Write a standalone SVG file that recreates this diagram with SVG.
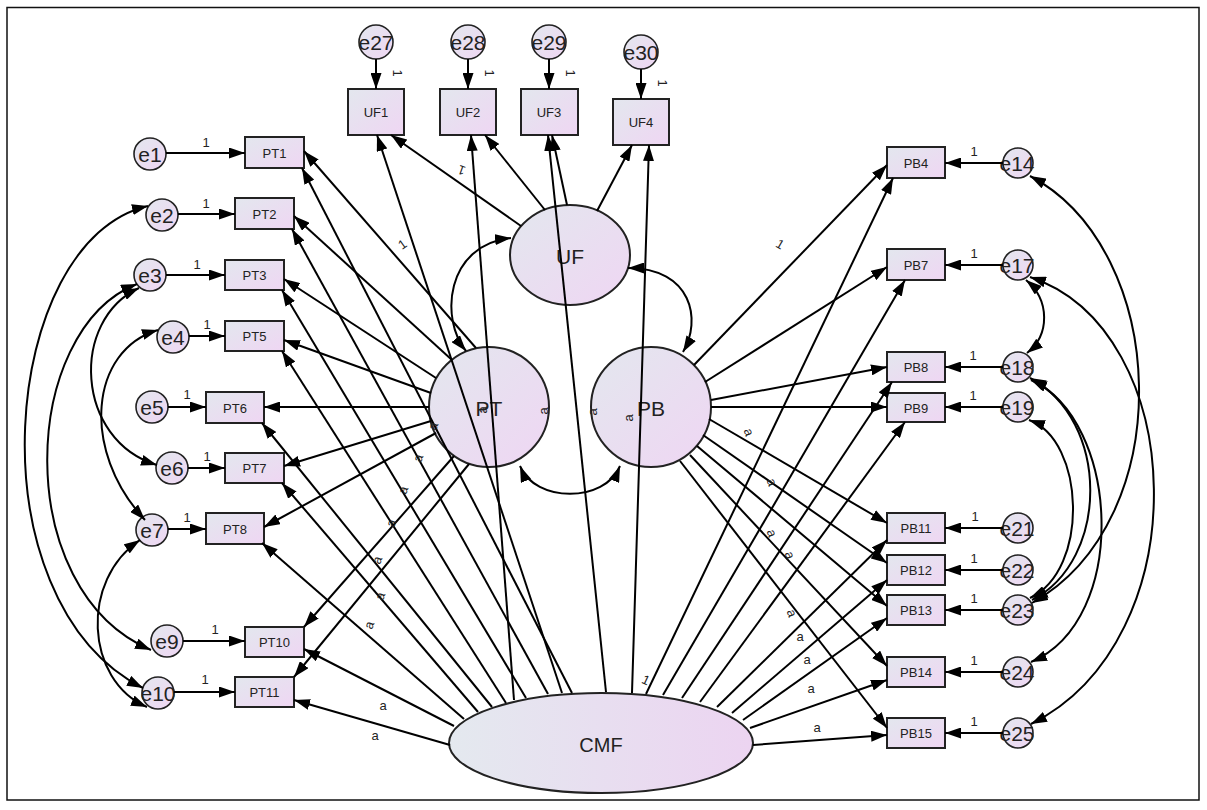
<svg xmlns="http://www.w3.org/2000/svg" width="1207" height="810" viewBox="0 0 1207 810">
<defs>
<linearGradient id="gd" x1="0" y1="0" x2="1" y2="1"><stop offset="0" stop-color="#e3e7ee"/><stop offset="1" stop-color="#efd6f3"/></linearGradient>
<linearGradient id="gh" x1="0" y1="0" x2="1" y2="0"><stop offset="0" stop-color="#e4e9ef"/><stop offset="1" stop-color="#ecd4f1"/></linearGradient>
<marker id="ah" viewBox="0 0 16 11" refX="16" refY="5.5" markerWidth="16" markerHeight="11" markerUnits="userSpaceOnUse" orient="auto-start-reverse"><path d="M0,0 L16,5.5 L0,11 z" fill="#000"/></marker>
<style>
.box{fill:url(#gd);stroke:#222;stroke-width:2}
.err{fill:url(#gd);stroke:#222;stroke-width:1.6}
.lat{fill:url(#gd);stroke:#222;stroke-width:2}
.bt{font-family:"Liberation Sans",Arial,sans-serif;font-size:13px;fill:#222;text-anchor:middle;dominant-baseline:central}
.et{font-family:"Liberation Sans",Arial,sans-serif;font-size:21px;fill:#222;text-anchor:middle;dominant-baseline:central}
.lt{font-family:"Liberation Sans",Arial,sans-serif;font-size:21px;fill:#222;text-anchor:middle;dominant-baseline:central}
.one{font-family:"Liberation Sans",Arial,sans-serif;font-size:13px;fill:#222;text-anchor:middle}
.al{font-family:"Liberation Sans",Arial,sans-serif;font-size:13px;fill:#222;text-anchor:middle;dominant-baseline:central}
.c line,.c path{stroke:#000;stroke-width:2;fill:none;marker-end:url(#ah)}
.c path.cov{marker-start:url(#ah)}
</style>
</defs>
<rect x="7" y="7.5" width="1192" height="792.5" fill="#fff" stroke="#111" stroke-width="1.5"/>

<!-- latent nodes -->
<g id="UF"><ellipse class="lat" cx="570" cy="255" rx="60" ry="50"/><text class="lt" x="570" y="256">UF</text></g>
<g id="PT"><circle class="lat" cx="489" cy="407" r="60"/><text class="lt" x="489" y="408">PT</text></g>
<g id="PB"><circle class="lat" cx="651" cy="407" r="60"/><text class="lt" x="651" y="408">PB</text></g>
<g id="CMF"><ellipse cx="601" cy="743" rx="152" ry="50" fill="url(#gh)" stroke="#222" stroke-width="2"/><text class="lt" x="601" y="745" style="font-size:20px">CMF</text></g>

<!-- UF indicators -->
<g id="UF1"><rect class="box" x="348" y="89" width="56" height="46"/><text class="bt" x="376" y="112">UF1</text></g>
<g id="UF2"><rect class="box" x="440" y="89" width="56" height="46"/><text class="bt" x="468" y="112">UF2</text></g>
<g id="UF3"><rect class="box" x="521" y="89" width="57" height="46"/><text class="bt" x="549" y="112">UF3</text></g>
<g id="UF4"><rect class="box" x="613" y="99" width="56" height="46"/><text class="bt" x="641" y="122">UF4</text></g>
<g id="e27"><circle class="err" cx="376" cy="42" r="17"/><text class="et" x="376" y="42">e27</text></g>
<g id="e28"><circle class="err" cx="468" cy="42" r="17"/><text class="et" x="468" y="42">e28</text></g>
<g id="e29"><circle class="err" cx="549" cy="42" r="17"/><text class="et" x="549" y="42">e29</text></g>
<g id="e30"><circle class="err" cx="641" cy="52" r="17"/><text class="et" x="641" y="52">e30</text></g>

<!-- PT indicators -->
<g id="PT1"><rect class="box" x="245" y="137" width="59" height="31"/><text class="bt" x="274.5" y="153">PT1</text></g>
<g id="PT2"><rect class="box" x="235" y="198" width="59" height="31"/><text class="bt" x="264.5" y="214">PT2</text></g>
<g id="PT3"><rect class="box" x="225" y="260" width="59" height="30"/><text class="bt" x="254.5" y="275">PT3</text></g>
<g id="PT5"><rect class="box" x="225" y="321" width="59" height="30"/><text class="bt" x="254.5" y="336">PT5</text></g>
<g id="PT6"><rect class="box" x="206" y="392" width="58" height="31"/><text class="bt" x="235" y="408">PT6</text></g>
<g id="PT7"><rect class="box" x="225" y="453" width="59" height="30"/><text class="bt" x="254.5" y="468">PT7</text></g>
<g id="PT8"><rect class="box" x="206" y="513" width="58" height="31"/><text class="bt" x="235" y="529">PT8</text></g>
<g id="PT10"><rect class="box" x="245" y="627" width="59" height="30"/><text class="bt" x="274.5" y="642">PT10</text></g>
<g id="PT11"><rect class="box" x="235" y="677" width="59" height="30"/><text class="bt" x="264.5" y="692">PT11</text></g>
<g id="e1"><circle class="err" cx="150" cy="154" r="16"/><text class="et" x="150" y="154">e1</text></g>
<g id="e2"><circle class="err" cx="162" cy="215" r="16"/><text class="et" x="162" y="215">e2</text></g>
<g id="e3"><circle class="err" cx="150" cy="275" r="16"/><text class="et" x="150" y="275">e3</text></g>
<g id="e4"><circle class="err" cx="173" cy="337" r="16"/><text class="et" x="173" y="337">e4</text></g>
<g id="e5"><circle class="err" cx="152" cy="407" r="16"/><text class="et" x="152" y="407">e5</text></g>
<g id="e6"><circle class="err" cx="172" cy="468" r="16"/><text class="et" x="172" y="468">e6</text></g>
<g id="e7"><circle class="err" cx="152" cy="530" r="16"/><text class="et" x="152" y="530">e7</text></g>
<g id="e9"><circle class="err" cx="167" cy="641" r="16"/><text class="et" x="167" y="641">e9</text></g>
<g id="e10"><circle class="err" cx="158" cy="693" r="16"/><text class="et" x="158" y="693">e10</text></g>

<!-- PB indicators -->
<g id="PB4"><rect class="box" x="887" y="147" width="58" height="31"/><text class="bt" x="916" y="163">PB4</text></g>
<g id="PB7"><rect class="box" x="887" y="249" width="58" height="31"/><text class="bt" x="916" y="265">PB7</text></g>
<g id="PB8"><rect class="box" x="887" y="352" width="58" height="30"/><text class="bt" x="916" y="367">PB8</text></g>
<g id="PB9"><rect class="box" x="887" y="393" width="58" height="29"/><text class="bt" x="916" y="408">PB9</text></g>
<g id="PB11"><rect class="box" x="887" y="513" width="58" height="30"/><text class="bt" x="916" y="528">PB11</text></g>
<g id="PB12"><rect class="box" x="887" y="555" width="58" height="30"/><text class="bt" x="916" y="570">PB12</text></g>
<g id="PB13"><rect class="box" x="887" y="595" width="58" height="30"/><text class="bt" x="916" y="610">PB13</text></g>
<g id="PB14"><rect class="box" x="887" y="657" width="58" height="30"/><text class="bt" x="916" y="672">PB14</text></g>
<g id="PB15"><rect class="box" x="887" y="718" width="58" height="30"/><text class="bt" x="916" y="733">PB15</text></g>
<g id="e14"><circle class="err" cx="1018" cy="163" r="15"/><text class="et" x="1017" y="163">e14</text></g>
<g id="e17"><circle class="err" cx="1018" cy="265" r="15"/><text class="et" x="1017" y="265">e17</text></g>
<g id="e18"><circle class="err" cx="1018" cy="367" r="15"/><text class="et" x="1017" y="367">e18</text></g>
<g id="e19"><circle class="err" cx="1018" cy="407" r="15"/><text class="et" x="1017" y="407">e19</text></g>
<g id="e21"><circle class="err" cx="1018" cy="528" r="15"/><text class="et" x="1017" y="528">e21</text></g>
<g id="e22"><circle class="err" cx="1018" cy="570" r="15"/><text class="et" x="1017" y="570">e22</text></g>
<g id="e23"><circle class="err" cx="1018" cy="610" r="15"/><text class="et" x="1017" y="610">e23</text></g>
<g id="e24"><circle class="err" cx="1018" cy="672" r="15"/><text class="et" x="1017" y="672">e24</text></g>
<g id="e25"><circle class="err" cx="1018" cy="733" r="15"/><text class="et" x="1017" y="733">e25</text></g>

<g id="connectors" class="c">
<!-- error to indicators -->
<line x1="376" y1="59" x2="376" y2="89"/>
<line x1="468" y1="59" x2="468" y2="89"/>
<line x1="549" y1="59" x2="549" y2="89"/>
<line x1="641" y1="69" x2="641" y2="99"/>
<line x1="166" y1="153" x2="245" y2="153"/>
<line x1="178" y1="214" x2="235" y2="214"/>
<line x1="166" y1="275" x2="225" y2="275"/>
<line x1="189" y1="336" x2="225" y2="336"/>
<line x1="168" y1="407" x2="206" y2="407"/>
<line x1="188" y1="468" x2="225" y2="468"/>
<line x1="168" y1="529" x2="206" y2="529"/>
<line x1="183" y1="641" x2="245" y2="641"/>
<line x1="174" y1="692" x2="235" y2="692"/>
<line x1="1003" y1="163" x2="945" y2="163"/>
<line x1="1003" y1="265" x2="945" y2="265"/>
<line x1="1003" y1="367" x2="945" y2="367"/>
<line x1="1003" y1="407" x2="945" y2="407"/>
<line x1="1003" y1="528" x2="945" y2="528"/>
<line x1="1003" y1="570" x2="945" y2="570"/>
<line x1="1003" y1="610" x2="945" y2="610"/>
<line x1="1003" y1="672" x2="945" y2="672"/>
<line x1="1003" y1="733" x2="945" y2="733"/>
<!-- UF loadings -->
<line x1="521" y1="226" x2="391" y2="135"/>
<line x1="545" y1="210" x2="485" y2="135"/>
<line x1="567" y1="205" x2="552" y2="135"/>
<line x1="597" y1="211" x2="632" y2="145"/>
<!-- PT loadings -->
<line x1="476" y1="348" x2="304" y2="151"/>
<line x1="452" y1="360" x2="294" y2="216"/>
<line x1="436" y1="378" x2="284" y2="279"/>
<line x1="431" y1="393" x2="284" y2="340"/>
<line x1="429" y1="407" x2="264" y2="407"/>
<line x1="431" y1="421" x2="284" y2="466"/>
<line x1="436" y1="433" x2="264" y2="527"/>
<line x1="454" y1="456" x2="304" y2="627"/>
<line x1="469" y1="464" x2="294" y2="677"/>
<!-- PB loadings -->
<line x1="694" y1="365" x2="887" y2="165"/>
<line x1="705" y1="382" x2="887" y2="267"/>
<line x1="711" y1="400" x2="887" y2="367"/>
<line x1="711" y1="407" x2="887" y2="407"/>
<line x1="709" y1="419" x2="887" y2="523"/>
<line x1="703" y1="435" x2="887" y2="563"/>
<line x1="697" y1="446" x2="887" y2="606"/>
<line x1="690" y1="455" x2="887" y2="666"/>
<line x1="680" y1="461" x2="887" y2="728"/>
<!-- CMF loadings -->
<line x1="450" y1="745" x2="294" y2="700"/>
<line x1="454" y1="726" x2="304" y2="649"/>
<line x1="464" y1="719" x2="262" y2="543"/>
<line x1="478" y1="712" x2="282" y2="483"/>
<line x1="492" y1="707" x2="262" y2="423"/>
<line x1="506" y1="703" x2="282" y2="351"/>
<line x1="526" y1="698" x2="282" y2="290"/>
<line x1="548" y1="694" x2="292" y2="229"/>
<line x1="572" y1="693" x2="302" y2="168"/>
<line x1="562" y1="693" x2="377" y2="135"/>
<line x1="514" y1="700" x2="471" y2="135"/>
<line x1="606" y1="692" x2="548" y2="135"/>
<line x1="632" y1="693" x2="649" y2="145"/>
<line x1="646" y1="694" x2="893" y2="178"/>
<line x1="663" y1="695" x2="905" y2="280"/>
<line x1="682" y1="698" x2="892" y2="382"/>
<line x1="700" y1="702" x2="905" y2="422"/>
<line x1="717" y1="707" x2="887" y2="540"/>
<line x1="732" y1="713" x2="887" y2="580"/>
<line x1="743" y1="720" x2="887" y2="618"/>
<line x1="750" y1="728" x2="887" y2="680"/>
<line x1="753" y1="745" x2="887" y2="735"/>
<!-- latent covariances -->
<path class="cov" d="M466,351 C440,320 445,245 511,238"/>
<path class="cov" d="M628,268 C692,268 702,320 683,352"/>
<path class="cov" d="M520,466 C535,503 605,503 620,466"/>
<!-- error covariances left -->
<path class="cov" d="M148,206 C0,240 -30,600 143,688"/>
<path class="cov" d="M137,284 C20,330 10,590 151,650"/>
<path class="cov" d="M139,288 C70,320 75,440 157,465"/>
<path class="cov" d="M158,330 C90,350 80,450 145,520"/>
<path class="cov" d="M140,540 C80,580 85,680 147,707"/>
<!-- error covariances right -->
<path class="cov" d="M1030,176 C1170,250 1180,520 1032,603"/>
<path class="cov" d="M1030,277 C1190,330 1200,640 1031,724"/>
<path class="cov" d="M1026,280 C1050,300 1050,335 1027,353"/>
<path class="cov" d="M1030,378 C1110,420 1110,560 1032,600"/>
<path class="cov" d="M1031,380 C1120,420 1130,620 1031,662"/>
<path class="cov" d="M1029,420 C1085,440 1090,570 1030,598"/>
</g>

<g id="edge-labels">
<text class="one" x="206" y="147">1</text>
<text class="one" x="206" y="208">1</text>
<text class="one" x="197" y="269">1</text>
<text class="one" x="207" y="329">1</text>
<text class="one" x="187" y="399">1</text>
<text class="one" x="207" y="461">1</text>
<text class="one" x="187" y="522">1</text>
<text class="one" x="215" y="634">1</text>
<text class="one" x="205" y="684">1</text>
<text class="one" x="974" y="156">1</text>
<text class="one" x="974" y="258">1</text>
<text class="one" x="973" y="360">1</text>
<text class="one" x="973" y="400">1</text>
<text class="one" x="975" y="521">1</text>
<text class="one" x="974" y="563">1</text>
<text class="one" x="974" y="603">1</text>
<text class="one" x="974" y="665">1</text>
<text class="one" x="974" y="726">1</text>
<text class="one" transform="translate(393,73) rotate(90)">1</text>
<text class="one" transform="translate(485,73) rotate(90)">1</text>
<text class="one" transform="translate(566,73) rotate(90)">1</text>
<text class="one" transform="translate(658,83) rotate(90)">1</text>
<text class="one" transform="translate(463,166) rotate(200)">1</text>
<text class="one" transform="translate(405,248) rotate(-35)">1</text>
<text class="one" transform="translate(778,248) rotate(30)">1</text>
<text class="one" transform="translate(644,684) rotate(25)">1</text>
<text class="al" transform="translate(433,426) rotate(-70)">a</text>
<text class="al" transform="translate(418,458) rotate(-70)">a</text>
<text class="al" transform="translate(403,490) rotate(-70)">a</text>
<text class="al" transform="translate(391,523) rotate(-70)">a</text>
<text class="al" transform="translate(377,560) rotate(-70)">a</text>
<text class="al" transform="translate(380,596) rotate(-70)">a</text>
<text class="al" transform="translate(369,625) rotate(-70)">a</text>
<text class="al" x="383" y="705">a</text>
<text class="al" x="375" y="735">a</text>
<text class="al" transform="translate(482,410) rotate(-90)">a</text>
<text class="al" transform="translate(543,411) rotate(-90)">a</text>
<text class="al" transform="translate(592,412) rotate(-90)">a</text>
<text class="al" transform="translate(628,418) rotate(-90)">a</text>
<text class="al" transform="translate(749,432) rotate(70)">a</text>
<text class="al" transform="translate(772,482) rotate(70)">a</text>
<text class="al" transform="translate(772,533) rotate(70)">a</text>
<text class="al" transform="translate(790,555) rotate(70)">a</text>
<text class="al" transform="translate(792,613) rotate(70)">a</text>
<text class="al" x="800" y="636">a</text>
<text class="al" x="807" y="659">a</text>
<text class="al" x="811" y="688">a</text>
<text class="al" x="817" y="727">a</text>
</g>
</svg>
